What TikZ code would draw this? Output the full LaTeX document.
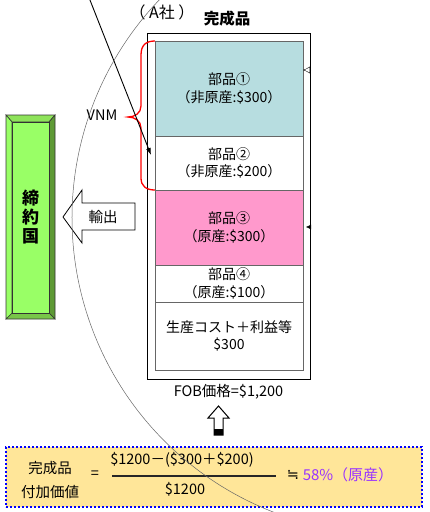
\documentclass[tikz,border=0pt]{standalone}
\usepackage{fontspec}
\setmainfont{Noto Sans CJK JP}
\newfontfamily\symfont{DejaVu Sans}
\usepackage{tikz}
\usetikzlibrary{arrows.meta,positioning,calc}
\definecolor{PartBlue}{HTML}{B7DDE0}
\definecolor{PartPink}{HTML}{FF99CC}
\definecolor{LandGreen}{HTML}{99FF66}
\definecolor{LandTop}{HTML}{8EE35A}
\definecolor{LandMid}{HTML}{78C648}
\definecolor{LandDark}{HTML}{5E9A35}
\definecolor{CalcFill}{HTML}{FFE699}
\definecolor{CalcBlue}{HTML}{0000FF}
\definecolor{RateViolet}{HTML}{9933FF}

\begin{document}
\begin{tikzpicture}[x=1pt,y=-1pt,
  every node/.style={font=\fontsize{14.5}{17}\selectfont},
  partbox/.style={draw=black!60,line width=0.8pt,minimum width=148pt,outer sep=0pt,inner sep=0pt,align=center,font=\fontsize{14}{17.5}\selectfont}]
  \clip (0,0) rectangle (429,512);
  \useasboundingbox (0,0) rectangle (429,512);
  % finished product and its parts
  \node[draw,line width=1pt,minimum width=163pt,minimum height=346pt,outer sep=0pt] (prod) at (228.5,206) {};
  \node[partbox,fill=PartBlue,minimum height=95pt] (p1) at (229,88.5) {部品①\\（非原産:\$300）};
  \node[partbox,fill=white,minimum height=54pt,below=0pt of p1] (p2) {部品②\\（非原産:\$200）};
  \node[partbox,fill=PartPink,minimum height=75pt,below=0pt of p2] (p3) {部品③\\（原産:\$300）};
  \node[partbox,fill=white,minimum height=37pt,below=0pt of p3] (p4) {部品④\\（原産:\$100）};
  \node[partbox,fill=white,minimum height=68pt,below=0pt of p4] (p5) {生産コスト＋利益等\\\$300};
  \node[font=\fontsize{15.5}{17}\selectfont\bfseries] (title) at (227,19) {完成品};
  \node[font=\fontsize{16}{18}\selectfont] (firm) at (162,12) {（ A社 ）};
  \node[below=2pt of prod] (fob) {FOB価格=\$1,200};
  % small arrows on the right edge
  \coordinate (inA) at (311,70);
  \coordinate (inB) at (310,227);
  \draw[-{Latex[open,length=7pt,width=7pt]}] (inA) -- (p1.east |- inA);
  \draw[-{Latex[length=5pt,width=5pt]}] (inB) -- ++(-4,0);
  % VNM brace
  \node (vnm) at (102,115) {VNM};
  \draw[red,line width=1.3pt] (p1.north west) .. controls (146,41) and (141,45) .. (141,55) -- (141,106)
    .. controls (141,113) and (135,117) .. (128,117) .. controls (135,117) and (141,121) .. (141,128)
    -- (141,178) .. controls (141,186) and (146,190) .. (p2.south west);
  \coordinate (lineTop) at (88,-5);
  \coordinate (lineEnd) at (151,155);
  \draw[line width=0.9pt,-{Latex[length=7pt,width=5pt]}] (lineTop) -- (lineEnd);
  % partner country
  \fill[LandTop,draw=black!80,line width=0.6pt] (6,115) -- (55,115) -- (49,122) -- (12,122) -- cycle;
  \fill[LandDark,draw=black!80,line width=0.6pt] (55,115) -- (55,319) -- (49,313) -- (49,122) -- cycle;
  \fill[LandMid,draw=black!80,line width=0.6pt] (6,319) -- (55,319) -- (49,313) -- (12,313) -- cycle;
  \fill[LandGreen,draw=black!80,line width=0.6pt] (6,115) -- (12,122) -- (12,313) -- (6,319) -- cycle;
  \node[draw=black!80,line width=0.6pt,fill=LandGreen,minimum width=37pt,minimum height=191pt,align=center,
    font=\fontsize{17}{19}\selectfont\bfseries] (land) at (30.5,217.5) {締\\約\\国};
  % export arrow
  \draw[fill=white,line width=0.8pt] (135,203) -- (82,203) -- (82,190) -- (63,217) -- (82,243) -- (82,230) -- (135,230) -- cycle;
  \node (export) at (103,217) {輸出};
  % up arrow
  \draw[fill=white,line width=1pt] (214,435) -- (214,418) -- (208,418) -- (218.5,406) -- (229,418) -- (223,418) -- (223,435) -- cycle;
  \fill (214,429) rectangle (223,435);
  % calculation
  \node[draw=CalcBlue,line width=2pt,dash pattern=on 2pt off 2pt,fill=CalcFill,minimum width=416pt,minimum height=60pt] (calc) at (214,477) {};
  \node (c1) at (50,468) {完成品};
  \node (c2) at (50,492) {付加価値};
  \node (eq) at (95,475) {=};
  \node (num) at (182,460) {\$1200－(\$300＋\$200)};
  \node (den) at (185,489) {\$1200};
  \draw[line width=1.2pt,black!85] (112,476) -- (276,476);
  \node (approx) at (293,475) {\symfont ≒};
  \node[text=RateViolet,font=\fontsize{15}{17}\selectfont] (rate) at (348,475) {58\%（原産）};
  % company boundary
  \draw[black!60,line width=0.5pt] (387.7,217.8) ++(225:315.7) arc[start angle=225,end angle=110,radius=315.7];
\end{tikzpicture}
\end{document}
